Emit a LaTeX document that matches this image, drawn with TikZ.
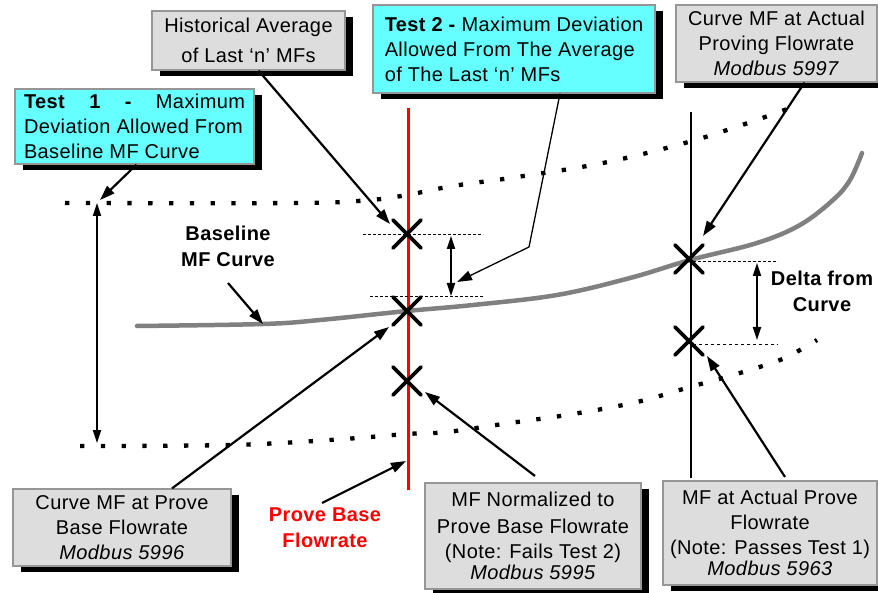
\documentclass[tikz,border=0pt]{standalone}
\usepackage{fontspec}
\setmainfont{Liberation Sans}[LetterSpace=2]
\usetikzlibrary{arrows.meta,shadows}
\definecolor{boxgray}{RGB}{221,221,221}
\definecolor{boxedge}{RGB}{150,150,150}
\definecolor{boxcyan}{RGB}{102,255,255}
\definecolor{curvegray}{RGB}{128,128,128}
\begin{document}
\begin{tikzpicture}[x=1pt,y=-1pt,
  box/.style={draw=boxedge, line width=1.2pt, fill=boxgray,
    drop shadow={shadow xshift=8pt, shadow yshift=-6pt, opacity=1, fill=black},
    inner sep=0pt, font=\fontsize{20}{25}\selectfont, align=center},
  cbox/.style={box, fill=boxcyan},
  pointer/.style={line width=2.2pt, -{Triangle[length=15pt,width=10pt]}},
  thinpointer/.style={line width=1.3pt, -{Triangle[length=15pt,width=10pt]}},
  dbl/.style={line width=1.8pt, {Triangle[length=13pt,width=8pt]}-{Triangle[length=13pt,width=8pt]}},
  dotcurve/.style={line width=4.3pt, dash pattern=on 4.3pt off 16.5pt},
  mfcurve/.style={line width=4.5pt, curvegray, line cap=round},
  cross/.style={line width=3.8pt, line cap=round},
  level/.style={line width=1pt, densely dashed},
  lbl/.style={font=\fontsize{20}{26}\selectfont\bfseries, align=center, inner sep=0pt}
]
\useasboundingbox (0,0) rectangle (878,593);
\fill[white] (0,0) rectangle (878,593);

% curves
\draw[mfcurve] plot[smooth, tension=0.6] coordinates {(137,326) (263,324) (320,320) (407,311) (473,305) (557,295) (630,278) (690,260) (757,243) (800,225) (833,200) (850,180) (862,153)};
\draw[dotcurve] plot[smooth, tension=0.6] coordinates {(65,203) (300,203) (370,200) (407,195) (453,186) (517,177) (603,163) (685,143) (745,124) (790,108)};
\draw[dotcurve] plot[smooth, tension=0.6] coordinates {(80,446) (230,445) (330,440) (407,434) (447,432) (510,423) (573,414) (637,402) (690,387) (740,373) (780,360) (800,350) (817,340)};

% vertical lines
\coordinate (rtop) at (408,108);
\coordinate (rbot) at (408,490);
\draw[red, line width=3pt] (rtop) -- (rbot);
\coordinate (btop) at (691,112);
\coordinate (bbot) at (691,478);
\draw[line width=1.5pt] (btop) -- (bbot);

% crosses
\coordinate (xa) at (407,234);
\coordinate (xb) at (407,311);
\coordinate (xc) at (407,381);
\coordinate (xd) at (689,259);
\coordinate (xe) at (689,341);
\foreach \c in {xa,xb,xc,xd,xe}{
  \draw[cross] ([shift={(-14,-14)}]\c) -- ([shift={(14,14)}]\c);
  \draw[cross] ([shift={(-14,14)}]\c) -- ([shift={(14,-14)}]\c);
}

% level lines
\coordinate (la1) at (363,235); \coordinate (la2) at (483,235);
\coordinate (lb1) at (370,297); \coordinate (lb2) at (483,297);
\draw[level] (la1) -- (la2);
\draw[level] (lb1) -- (lb2);
\coordinate (da1) at (451,236); \coordinate (da2) at (451,296);
\draw[dbl] (da1) -- (da2);
\coordinate (lc1) at (693,262); \coordinate (lc2) at (778,262);
\coordinate (ld1) at (693,344); \coordinate (ld2) at (778,344);
\draw[level] (lc1) -- (lc2);
\draw[line width=0.8pt, dashed] (ld1) -- (ld2);
\coordinate (dd1) at (757,263); \coordinate (dd2) at (757,340);
\draw[dbl] (dd1) -- (dd2);
\coordinate (va1) at (97,203); \coordinate (va2) at (97,443);
\draw[dbl] (va1) -- (va2);

% boxes
\node[box, minimum width=193pt, minimum height=59pt, font=\fontsize{20}{30}\selectfont] (hist) at (248.5,40.5) {Historical Average\\of Last ‘n’ MFs};
\node[cbox, minimum width=239pt, minimum height=75pt, align=left] (test1) at (134.5,126.5) {\makebox[221pt][s]{\textbf{Test}\hfill\textbf{1}\hfill\textbf{-}\hfill Maximum}\\Deviation Allowed From\\Baseline MF Curve};
\node[cbox, minimum width=282pt, minimum height=88pt, align=left] (test2) at (514,49) {\textbf{Test 2 -} Maximum Deviation\\Allowed From The Average\\of The Last ‘n’ MFs};
\node[box, minimum width=201pt, minimum height=77pt] (cact) at (776.5,43.5) {Curve MF at Actual\\Proving Flowrate\\\textit{Modbus 5997}};
\node[box, minimum width=218pt, minimum height=77pt] (cprove) at (122,527.5) {Curve MF at Prove\\Base Flowrate\\\textit{Modbus 5996}};
\node[box, minimum width=216pt, minimum height=106pt] (mfnorm) at (533,536) {MF Normalized to\\[2pt]Prove Base Flowrate\\(Note: Fails Test 2)\\[-4pt]\textit{Modbus 5995}};
\node[box, minimum width=214pt, minimum height=104pt] (mfact) at (770,533) {MF at Actual Prove\\Flowrate\\(Note: Passes Test 1)\\[-4pt]\textit{Modbus 5963}};

% labels
\node[lbl] (baseline) at (228,246) {Baseline\\MF Curve};
\node[lbl] (delta) at (822,291) {Delta from\\Curve};
\node[lbl, red] (pb) at (325,528) {Prove Base\\Flowrate};

% pointers
\coordinate (t1tip) at (100,200);
\draw[pointer] ([xshift=2pt]test1.south) -- (t1tip);
\coordinate (histtip) at (390,224);
\draw[pointer] ([xshift=10pt]hist.south) -- (histtip);
\coordinate (t2bend) at (529,247);
\coordinate (t2tip) at (457,282);
\draw[thinpointer] ([xshift=46pt]test2.south) -- (t2bend) -- (t2tip);
\coordinate (cacttip) at (703,236);
\draw[pointer] ([xshift=28pt]cact.south) -- (cacttip);
\coordinate (bltail) at (228,283);
\coordinate (bltip) at (263,324);
\draw[pointer] (bltail) -- (bltip);
\coordinate (cprovetip) at (389,327);
\draw[pointer] ([xshift=50pt]cprove.north) -- (cprovetip);
\coordinate (pbtail) at (322,503);
\coordinate (pbtip) at (406,461);
\draw[pointer] (pbtail) -- (pbtip);
\coordinate (normtail) at (535,476);
\coordinate (normtip) at (425,392);
\draw[pointer] (normtail) -- (normtip);
\coordinate (acttail) at (785,477);
\coordinate (acttip) at (707,356);
\draw[pointer] (acttail) -- (acttip);
\end{tikzpicture}
\end{document}
